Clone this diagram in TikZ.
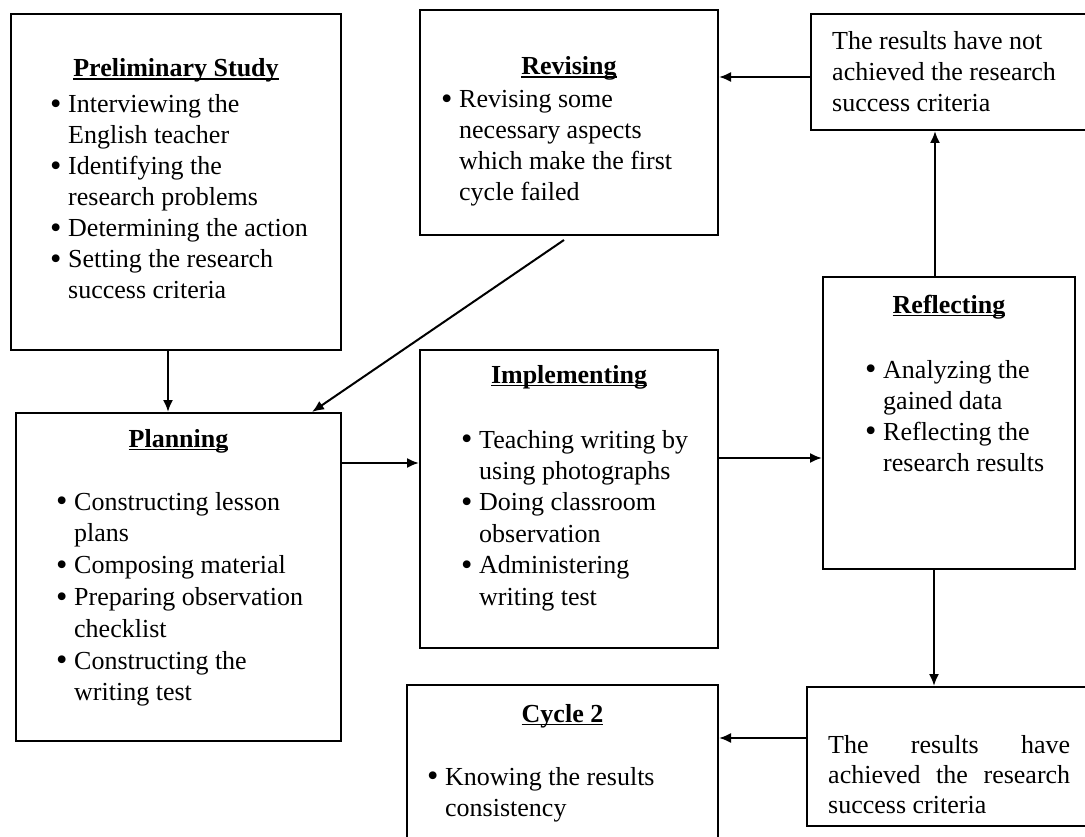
\documentclass[tikz,border=0pt]{standalone}
\usepackage{fontspec}
\setmainfont{Liberation Serif}
\usetikzlibrary{arrows.meta,positioning}

\newcommand{\heading}[1]{\setbox0\hbox{\textbf{#1}}\rlap{\rule[-3pt]{\wd0}{1.5pt}}\box0}
\newcommand{\itm}{\makebox[18pt][l]{\raisebox{-1.8pt}{\scalebox{1.25}{\textbullet}}}}

\tikzset{
  stagebox/.style={draw, line width=2pt, anchor=north west, inner sep=0pt},
  stagehead/.style={anchor=base, inner sep=0pt, font=\fontsize{26}{31}\selectfont},
  stagelist/.style={anchor=base west, inner sep=0pt, font=\fontsize{26}{31}\selectfont},
  flow/.style={-{Latex[length=12pt,width=10pt]}, line width=2pt},
}

\begin{document}
\begin{tikzpicture}[x=1pt,y=-1pt]
\useasboundingbox (0,0) rectangle (1085,837);
\fill[white] (0,0) rectangle (1085,837);
\clip (0,0) rectangle (1085,837);

% Boxes
\node[stagebox, minimum width=330pt, minimum height=336pt] (prelim) at (10,13) {};
\node[stagebox, minimum width=298pt, minimum height=225pt] (revising) at (419,9) {};
\node[stagebox, minimum width=290pt, minimum height=116pt] (notach) at (810,13) {};
\node[stagebox, minimum width=252pt, minimum height=292pt] (reflect) at (822,276) {};
\node[stagebox, minimum width=325pt, minimum height=328pt] (planning) at (15,412) {};
\node[stagebox, minimum width=298pt, minimum height=298pt] (implement) at (419,349) {};
\node[stagebox, minimum width=311pt, minimum height=170pt] (cycle) at (406,684) {};
\node[stagebox, minimum width=290pt, minimum height=139pt] (achieved) at (806,686) {};

% Headings
\node[stagehead] (prelimhead) at (prelim.north |- 0,77) {\heading{Preliminary Study}};
\node[stagehead] (revisinghead) at (revising.north |- 0,75) {\heading{Revising}};
\node[stagehead] (reflecthead) at (reflect.north |- 0,313) {\heading{Reflecting}};
\node[stagehead] (planninghead) at (planning.north |- 0,447) {\heading{Planning}};
\node[stagehead] (implementhead) at (implement.north |- 0,383) {\heading{Implementing}};
\node[stagehead] (cyclehead) at (cycle.north |- 0,722) {\heading{Cycle 2}};

% Contents
\node[stagelist] (prelimlist) at (50,113) {\begin{tabular}[t]{@{}l@{}l@{}}
  \itm & Interviewing the\\ & English teacher\\
  \itm & Identifying the\\ & research problems\\
  \itm & Determining the action\\
  \itm & Setting the research\\ & success criteria
\end{tabular}};
\node[stagelist] (revisinglist) at (441,108) {\begin{tabular}[t]{@{}l@{}l@{}}
  \itm & Revising some\\ & necessary aspects\\ & which make the first\\ & cycle failed
\end{tabular}};
\node[stagelist] (notachtext) at (832,50) {\begin{tabular}[t]{@{}l@{}}
  The results have not\\ achieved the research\\ success criteria
\end{tabular}};
\node[stagelist] (reflectlist) at (865,378) {\begin{tabular}[t]{@{}l@{}l@{}}
  \itm & Analyzing the\\ & gained data\\
  \itm & Reflecting the\\ & research results
\end{tabular}};
\node[stagelist, font=\fontsize{26}{31.8}\selectfont] (planninglist) at (56,510) {\begin{tabular}[t]{@{}l@{}l@{}}
  \itm & Constructing lesson\\ & plans\\
  \itm & Composing material\\
  \itm & Preparing observation\\ & checklist\\
  \itm & Constructing the\\ & writing test
\end{tabular}};
\node[stagelist, font=\fontsize{26}{31.4}\selectfont] (implementlist) at (461,448) {\begin{tabular}[t]{@{}l@{}l@{}}
  \itm & Teaching writing by\\ & using photographs\\
  \itm & Doing classroom\\ & observation\\
  \itm & Administering\\ & writing test
\end{tabular}};
\node[stagelist] (cyclelist) at (427,785) {\begin{tabular}[t]{@{}l@{}l@{}}
  \itm & Knowing the results\\ & consistency
\end{tabular}};
\node[stagelist, font=\fontsize{26}{30}\selectfont] (achievedtext) at (828,753) {\begin{tabular}[t]{@{}l@{}}
  \makebox[242pt][s]{The results have}\\
  \makebox[242pt][s]{achieved the research}\\
  success criteria
\end{tabular}};

% Flow
\draw[flow] ([xshift=-8pt]prelim.south) -- ([xshift=-8pt]prelim.south |- planning.north);
\draw[flow] ([xshift=-5pt,yshift=-4pt]revising.south) -- ([xshift=-30pt]planning.north east);
\draw[flow] ([yshift=-5pt]notach.west) -- ([yshift=-5pt]notach.west -| revising.east);
\draw[flow] ([xshift=-14pt]reflect.north) -- ([xshift=-14pt]reflect.north |- notach.south);
\draw[flow] ([yshift=-51pt]planning.north east) -- ([yshift=-51pt]planning.north east -| implement.west);
\draw[flow] ([yshift=-109pt]implement.north east) -- ([yshift=-109pt]implement.north east -| reflect.west);
\draw[flow] ([xshift=-15pt]reflect.south) -- ([xshift=-15pt]reflect.south |- achieved.north);
\draw[flow] ([yshift=-52pt]achieved.north west) -- ([yshift=-52pt]achieved.north west -| cycle.east);
\end{tikzpicture}
\end{document}
